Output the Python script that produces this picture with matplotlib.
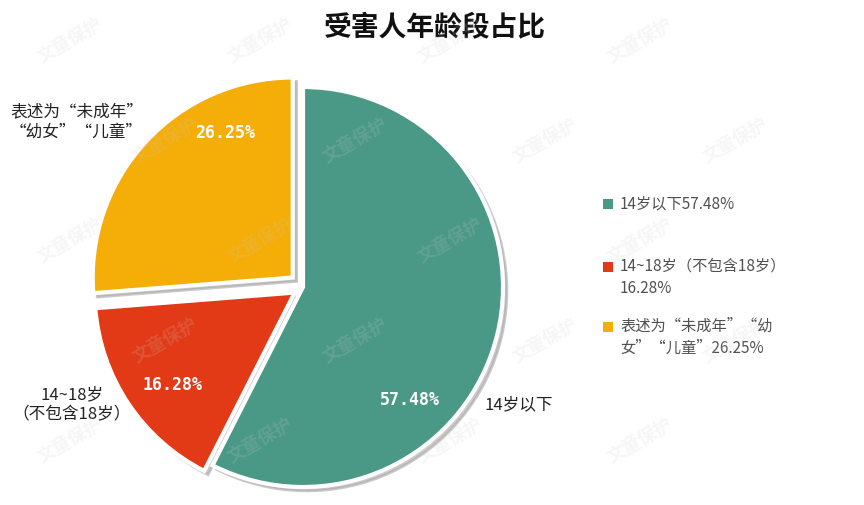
import matplotlib
matplotlib.use("Agg")
import matplotlib.pyplot as plt
from matplotlib.patches import Rectangle

plt.rcParams['font.family'] = ['Noto Sans CJK SC', 'DejaVu Sans']

categories = ["14岁以下", "14~18岁（不包含18岁）", "表述为“未成年”“幼女”“儿童”"]
values = [57.48, 16.28, 26.25]
pct_labels = ["57.48%", "16.28%", "26.25%"]
outer_labels = ["14岁以下", "14~18岁\n（不包含18岁）", "表述为“未成年”\n“幼女”“儿童”"]
legend_labels = ["14岁以下57.48%", "14~18岁（不包含18岁）\n16.28%", "表述为“未成年”“幼\n女”“儿童”26.25%"]
colors = ["#4A9886", "#E23A17", "#F5AD07"]
title = "受害人年龄段占比"
watermark = "文童保护"

W, H = 864, 506
fig = plt.figure(figsize=(W / 100, H / 100), dpi=100)
fig.patch.set_facecolor("white")

# pie axes: center (303, 288) px, radius 200 px
cx, cy, r = 303, 288, 200
ax = fig.add_axes([(cx - r) / W, (H - cy - r) / H, 2 * r / W, 2 * r / H])
wedges, _ = ax.pie(values, colors=colors, startangle=90, counterclock=False,
                   explode=[0, 0.05, 0.07],
                   wedgeprops=dict(edgecolor="white", linewidth=3),
                   shadow=dict(ox=0.014, oy=-0.014, facecolor="#a8a8a8",
                               edgecolor="#a8a8a8", linewidth=2, alpha=0.6))
ax.set_xlim(-1, 1)
ax.set_ylim(-1, 1)
ax.set_aspect("auto")
ax.axis("off")

pct_pos = [(0.535, -0.56), (-0.655, -0.485), (-0.39, 0.775)]
for (x, y), t in zip(pct_pos, pct_labels):
    ax.text(x, y, t, color="white", fontsize=12, fontweight="bold",
            family=["DejaVu Sans Mono"], ha="center", va="center")

ax.text(0.91, -0.585, outer_labels[0], fontsize=12, color="#222222", ha="left", va="center")
ax.text(-1.155, -0.585, outer_labels[1], fontsize=12, color="#222222", ha="center", va="center",
        linespacing=1.2)
ax.text(-1.465, 0.83, outer_labels[2], fontsize=12, color="#222222", ha="left", va="center",
        linespacing=1.2)

fig.text(435 / W, 1 - 28 / H, title, fontsize=20, fontweight="bold", color="#111111",
         ha="center", va="center")

# legend (manual)
leg_y = [205, 268, 328]
for yy, lab, c in zip(leg_y, legend_labels, colors):
    fig.patches.append(Rectangle((603 / W, 1 - (yy + 5) / H), 10 / W, 10 / H,
                                 transform=fig.transFigure, facecolor=c, edgecolor="none"))
    fig.text(620 / W, 1 - (yy - 10) / H, lab, fontsize=11, color="#505050",
             ha="left", va="top", linespacing=1.35)

# watermark (faint, kept inside the figure)
for row in range(5):
    for col in range(5):
        x = 70 + col * 190 + (row % 2) * 95
        y = 40 + row * 100
        if x > 820:
            continue
        fig.text(x / W, 1 - y / H, watermark, fontsize=13, color="#cccccc", alpha=0.18,
                 rotation=30, ha="center", va="center", fontweight="bold")

fig.savefig("out.png", dpi=100)
